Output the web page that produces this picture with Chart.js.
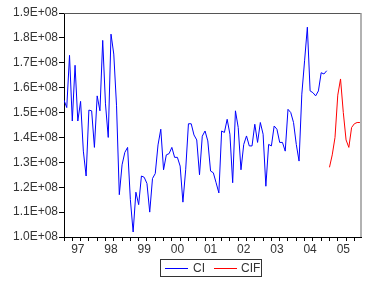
<!DOCTYPE html>
<html>
<head>
<meta charset="utf-8">
<script src="https://cdn.jsdelivr.net/npm/chart.js@4/dist/chart.umd.min.js"></script>
<style>
  html, body { margin: 0; padding: 0; background: #fff; }
  #wrap { position: relative; width: 377px; height: 295px; }
  #c { position: absolute; left: 0; top: 0; }
  #legend {
    position: absolute; left: 160px; top: 259px; width: 100px; height: 16px;
    border: 1px solid #333; box-sizing: content-box;
    font: 12px "Liberation Sans", Arial, sans-serif; color: #333;
  }
  .sw { position: absolute; top: 8px; height: 1px; width: 23px; }
  .lb { position: absolute; top: 1px; line-height: 14px; }
</style>
</head>
<body>
<div id="wrap">
  <canvas id="c" width="377" height="295"></canvas>
  <div id="legend">
    <div class="sw" style="left:4px;background:#0000ff"></div><div class="lb" style="left:32px">CI</div>
    <div class="sw" style="left:53px;background:#ff0000"></div><div class="lb" style="left:80px">CIF</div>
  </div>
</div>
<script>
// Monthly series, 1997M01 .. 2004M12 (CI) and 2005M01 .. 2005M12 (CIF), in units of 1E+08
const CI = [
  1.55, 1.52, 1.73, 1.466, 1.69, 1.466, 1.545, 1.345, 1.245, 1.51, 1.507, 1.36,
  1.567, 1.507, 1.79, 1.535, 1.40, 1.815, 1.735, 1.527, 1.17, 1.29, 1.34, 1.36,
  1.15, 1.02, 1.18, 1.13, 1.245, 1.24, 1.215, 1.10, 1.235, 1.255, 1.37, 1.433,
  1.27, 1.33, 1.335, 1.36, 1.32, 1.32, 1.285, 1.14, 1.27, 1.455, 1.455, 1.41,
  1.39, 1.25, 1.405, 1.426, 1.386, 1.265, 1.258, 1.218, 1.177, 1.426, 1.42, 1.473,
  1.413, 1.218, 1.507, 1.44, 1.27, 1.372, 1.406, 1.366, 1.366, 1.453, 1.38, 1.46,
  1.413, 1.204, 1.372, 1.366, 1.446, 1.433, 1.38, 1.38, 1.345, 1.513, 1.50, 1.46,
  1.372, 1.305, 1.574, 1.708, 1.843, 1.587, 1.58, 1.567, 1.587, 1.66, 1.655, 1.668
];
const CIF = [1.28, 1.33, 1.40, 1.57, 1.635, 1.50, 1.39, 1.36, 1.44, 1.455, 1.46, 1.46];
const YEAR_LABELS = ['97', '98', '99', '00', '01', '02', '03', '04', '05'];
const Y_TICKS = [1.0, 1.1, 1.2, 1.3, 1.4, 1.5, 1.6, 1.7, 1.8, 1.9];
const SCALE = 1e8;

const ciPts = CI.map((v, i) => ({ x: i, y: v * SCALE }));
const cifPts = CIF.map((v, i) => ({ x: CI.length + i, y: v * SCALE }));
const nMonths = CI.length + CIF.length;

// year label positions: mid-year (month index 5 of each year)
const yearPos = YEAR_LABELS.map((_, k) => 5 + 12 * k);
const quarterPos = [];
for (let m = 0; m < nMonths; m += 3) quarterPos.push(m);

const FONT = { family: '"Liberation Sans", Arial, sans-serif', size: 12 };

const framePlugin = {
  id: 'frame',
  afterDraw(chart) {
    const { ctx, chartArea: a } = chart;
    ctx.save();
    ctx.lineWidth = 1;
    ctx.strokeStyle = '#555';
    ctx.beginPath(); ctx.moveTo(a.left, a.top + 0.5); ctx.lineTo(a.right, a.top + 0.5); ctx.stroke();
    ctx.strokeStyle = '#999';
    ctx.lineWidth = 1.5;
    ctx.beginPath(); ctx.moveTo(a.right, a.top); ctx.lineTo(a.right, a.bottom); ctx.stroke();
    ctx.restore();
  }
};

new Chart(document.getElementById('c'), {
  type: 'line',
  data: {
    datasets: [
      { label: 'CI', data: ciPts, borderColor: '#0000ff', borderWidth: 1, pointRadius: 0, tension: 0, fill: false },
      { label: 'CIF', data: cifPts, borderColor: '#ff0000', borderWidth: 1, pointRadius: 0, tension: 0, fill: false }
    ]
  },
  options: {
    responsive: false,
    animation: false,
    events: [],
    layout: { padding: { top: 13, right: 16, left: 0, bottom: 0 } },
    plugins: { legend: { display: false }, tooltip: { enabled: false } },
    scales: {
      x: {
        type: 'linear',
        min: 0,
        max: 107.4,
        afterBuildTicks: (s) => {
          const t = quarterPos.map(v => ({ value: v, q: true }))
            .concat(yearPos.map(v => ({ value: v, q: false })));
          t.sort((a, b) => a.value - b.value);
          s.ticks = t;
        },
        afterFit: (s) => { s.height = 58; },
        ticks: {
          autoSkip: false, maxRotation: 0, minRotation: 0, padding: 1,
          color: '#333', font: FONT,
          callback: (v) => {
            const k = yearPos.indexOf(v);
            return k >= 0 ? YEAR_LABELS[k] : '';
          }
        },
        grid: {
          drawOnChartArea: false, drawTicks: true, tickLength: 4,
          tickColor: (ctx) => (ctx.tick && yearPos.indexOf(ctx.tick.value) >= 0) ? 'rgba(0,0,0,0)' : '#000'
        },
        border: { color: '#000', width: 1 }
      },
      y: {
        min: Y_TICKS[0] * SCALE,
        max: Y_TICKS[Y_TICKS.length - 1] * SCALE,
        afterBuildTicks: (s) => { s.ticks = Y_TICKS.map(v => ({ value: v * SCALE })); },
        afterFit: (s) => { s.width = 64; },
        ticks: {
          padding: 1, color: '#333', font: FONT,
          callback: (v) => (v / SCALE).toFixed(1) + 'E+08'
        },
        grid: { drawOnChartArea: false, drawTicks: true, tickLength: 5, tickColor: '#000' },
        border: { color: '#000', width: 1 }
      }
    }
  },
  plugins: [framePlugin]
});
</script>
</body>
</html>
